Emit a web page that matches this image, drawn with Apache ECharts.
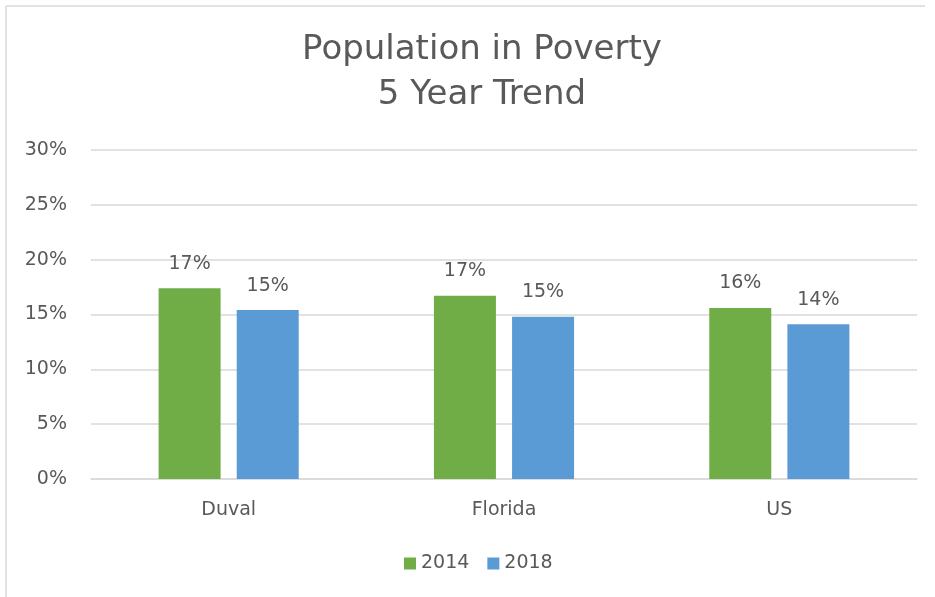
<!DOCTYPE html>
<html>
<head>
<meta charset="utf-8">
<script src="https://cdn.jsdelivr.net/npm/echarts@6/dist/echarts.min.js"></script>
<style>
  html, body { margin: 0; padding: 0; background: #fff; }
  #main { width: 935px; height: 597px; }
</style>
</head>
<body>
<div id="main"></div>
<script>
var categories = ['Duval', 'Florida', 'US'];
var seriesNames = ['2014', '2018'];
var values2014 = [17.4, 16.7, 15.6];
var values2018 = [15.4, 14.8, 14.1];
var yTicks = [0, 5, 10, 15, 20, 25, 30];

var myChart = echarts.init(document.getElementById('main'));
var fontFamily = '"DejaVu Sans", sans-serif';
var textColor = '#595959';

var option = {
    animation: false,
    backgroundColor: '#fff',
    textStyle: { fontFamily: fontFamily },
    title: {
        text: 'Population in Poverty\n5 Year Trend',
        left: 477,
        top: 23,
        textAlign: 'center',
        textStyle: {
            fontFamily: fontFamily,
            fontSize: 34,
            fontWeight: 'normal',
            color: textColor,
            lineHeight: 45
        }
    },
    legend: {
        data: seriesNames,
        bottom: 19,
        left: 399,
        itemWidth: 12,
        itemHeight: 12,
        itemGap: 18,
        icon: 'rect',
        textStyle: { fontSize: 19, color: textColor, fontFamily: fontFamily }
    },
    graphic: [
        { type: 'line', shape: { x1: 6, y1: 6, x2: 925, y2: 6 }, style: { stroke: '#d9d9d9', lineWidth: 1.5 } },
        { type: 'line', shape: { x1: 6, y1: 6, x2: 6, y2: 597 }, style: { stroke: '#d9d9d9', lineWidth: 1.5 } }
    ],
    grid: { left: 91, right: 18, top: 150, bottom: 118 },
    xAxis: {
        type: 'category',
        data: categories,
        axisTick: { show: false },
        axisLine: { lineStyle: { color: '#d9d9d9', width: 1.5 } },
        axisLabel: { fontSize: 19, color: textColor, margin: 22, fontFamily: fontFamily }
    },
    yAxis: {
        type: 'value',
        min: yTicks[0],
        max: yTicks[yTicks.length - 1],
        interval: 5,
        axisLine: { show: false },
        axisTick: { show: false },
        splitLine: { lineStyle: { color: '#d9d9d9', width: 1.5 } },
        axisLabel: {
            fontSize: 19, color: textColor, margin: 24, fontFamily: fontFamily,
            formatter: function (v) { return v + '%'; }
        }
    },
    series: [{
        name: seriesNames[0],
        type: 'bar',
        data: values2014,
        barWidth: 62,
        barGap: '26%',
        itemStyle: { color: '#70AD47' },
        label: {
            show: true, position: 'top', distance: 15,
            fontSize: 19, color: textColor, fontFamily: fontFamily,
            formatter: function (p) { return Math.round(p.value) + '%'; }
        }
    }, {
        name: seriesNames[1],
        type: 'bar',
        data: values2018,
        barWidth: 62,
        itemStyle: { color: '#5B9BD5' },
        label: {
            show: true, position: 'top', distance: 15,
            fontSize: 19, color: textColor, fontFamily: fontFamily,
            formatter: function (p) { return Math.round(p.value) + '%'; }
        }
    }]
};
myChart.setOption(option);
</script>
</body>
</html>
